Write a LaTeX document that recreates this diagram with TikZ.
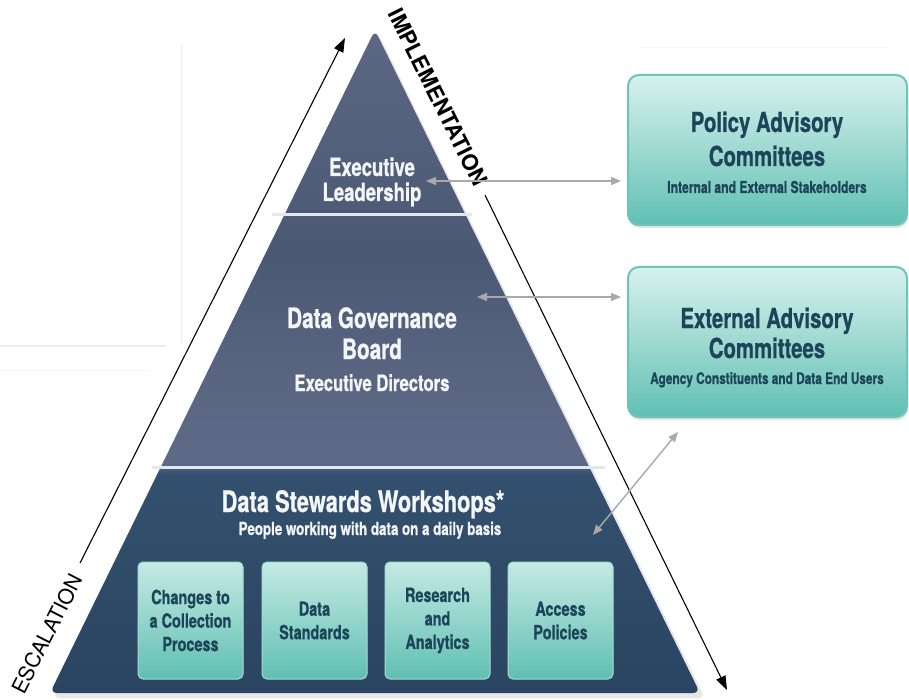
\documentclass[tikz,border=0pt]{standalone}
\usepackage{fontspec}
\setmainfont{TeX Gyre Heros}[FakeStretch=0.74, BoldFeatures={FakeBold=0.8}]
\newfontfamily\widefont{TeX Gyre Heros}
\usetikzlibrary{arrows.meta,shadows}
\definecolor{pyrA}{HTML}{2A4561}
\definecolor{pyrB}{HTML}{33506E}
\definecolor{pyrC}{HTML}{5E6A87}
\definecolor{pyrD}{HTML}{58647F}
\definecolor{pyrE}{HTML}{4A5874}
\definecolor{pyrF}{HTML}{4E5B77}
\definecolor{pyrG}{HTML}{5B6783}
\definecolor{pyrwhite}{HTML}{F3F5F7}
\definecolor{boxtext}{HTML}{1D4559}
\definecolor{arrowgray}{HTML}{A9A9A9}
\definecolor{sepline}{HTML}{E2E8EE}
\definecolor{faint}{HTML}{EDEDED}
\definecolor{tealtop}{HTML}{D8F1EE}
\definecolor{tealmid}{HTML}{9ED9D1}
\definecolor{tealbot}{HTML}{5FC0B3}
\definecolor{tealedge}{HTML}{6CC5B9}
\definecolor{stop}{HTML}{C4EAE4}
\definecolor{sbot}{HTML}{60BFB2}
\definecolor{sedge}{HTML}{A8DCD4}
\pgfdeclareverticalshading{pyrshade}{100bp}{color(0bp)=(pyrA); color(25bp)=(pyrA); color(41.5bp)=(pyrB); color(42.3bp)=(pyrC); color(50bp)=(pyrD); color(58bp)=(pyrE); color(61bp)=(pyrF); color(75bp)=(pyrG); color(100bp)=(pyrG)}
\pgfdeclareverticalshading{tealshade}{100bp}{color(0bp)=(tealbot); color(25bp)=(tealbot); color(50bp)=(tealmid); color(75bp)=(tealtop); color(100bp)=(tealtop)}
\newcommand\setfs[2]{\fontsize{#1}{#2}\selectfont\bfseries}
\begin{document}
\begin{tikzpicture}[x=1pt,y=-1pt,
  pyrtxt/.style={text=pyrwhite, inner sep=0pt, anchor=base},
  rtxt/.style={text=boxtext, inner sep=0pt, anchor=base},
  sbox/.style={rounded corners=5pt, draw=sedge, line width=1pt, top color=stop, bottom color=sbot,
    minimum width=105pt, minimum height=117pt, inner sep=0pt, text=boxtext, align=center,
    font=\setfs{19.5}{23.5}},
  rbox/.style={rounded corners=11pt, draw=tealedge, line width=2pt, shading=tealshade,
    minimum width=279pt, inner sep=0pt,
    drop shadow={opacity=0.22, shadow xshift=1pt, shadow yshift=-3pt}},
  garrow/.style={draw=arrowgray, line width=1.4pt,
    {Triangle[length=10pt,width=8pt]}-{Triangle[length=10pt,width=8pt]}},
  barrow/.style={draw=black, line width=1.1pt, -{Triangle[length=14pt,width=10pt]}},
  sep/.style={draw=sepline, line width=3pt}
]
\useasboundingbox (0,0) rectangle (909,700);
\fill[white] (0,0) rectangle (909,700);
% faint background traces
\draw[faint, line width=1pt] (181,45) -- (181,345);
\draw[faint, line width=1.2pt] (0,346) -- (166,346);
\draw[faint!50, line width=1pt] (0,370) -- (150,370);
\draw[faint!35, line width=1pt] (640,48) -- (890,48);

% pyramid
\fill[black!18, opacity=0.5, rounded corners=7pt] (379,35) -- (705,698) -- (53,698) -- cycle;
\shade[shading=pyrshade, rounded corners=7pt] (375,30) -- (700,693) -- (50,693) -- cycle;
\draw[sep] (272,215) -- (472,215);
\draw[sep] (152,467) -- (605,467);

% pyramid text
\node[pyrtxt, font=\setfs{25}{25}] (ex1) at (372,176) {Executive};
\node[pyrtxt, font=\setfs{25}{25}] (ex2) at (372,201) {Leadership};
\node[pyrtxt, font=\setfs{28}{28}] (dg1) at (372,328) {Data Governance};
\node[pyrtxt, font=\setfs{28}{28}] (dg2) at (372,359) {Board};
\node[pyrtxt, font=\setfs{22.5}{22.5}] (dg3) at (372,391) {Executive Directors};
\node[pyrtxt, font=\setfs{29.5}{29.5}] (ds1) at (363,512) {Data Stewards Workshops*};
\node[pyrtxt, font=\setfs{18}{18}] (ds2) at (370,535) {People working with data on a daily basis};

% workshop boxes
\node[sbox] (b1) at (190.5,620.5) {Changes to\\a Collection\\Process};
\node[sbox] (b2) at (314.5,620.5) {Data\\Standards};
\node[sbox] (b3) at (437.5,620.5) {Research\\and\\Analytics};
\node[sbox] (b4) at (560.5,620.5) {Access\\Policies};

% right boxes
\node[rbox, minimum height=150pt] (pac) at (767.5,150) {};
\node[rbox, minimum height=150pt] (eac) at (767.5,342) {};
\node[rtxt, font=\setfs{27.5}{27.5}] (pa1) at (767,132) {Policy Advisory};
\node[rtxt, font=\setfs{27.5}{27.5}] (pa2) at (767,166) {Committees};
\node[rtxt, font=\setfs{16.4}{16.4}] (pa3) at (767,193) {Internal and External Stakeholders};
\node[rtxt, font=\setfs{27.5}{27.5}] (ea1) at (767,328) {External Advisory};
\node[rtxt, font=\setfs{27.5}{27.5}] (ea2) at (767,358) {Committees};
\node[rtxt, font=\setfs{16}{16}] (ea3) at (767,384) {Agency Constituents and Data End Users};

% escalation / implementation
\coordinate (escS) at (80,563);
\coordinate (escE) at (345,38);
\coordinate (impS) at (485,195);
\coordinate (impE) at (727,690);
\draw[barrow] (escS) -- (escE);
\draw[barrow] (impS) -- (impE);
\node[inner sep=0pt, rotate=63, font=\widefont\fontsize{21}{21}\selectfont] (esc) at (47,634) {ESCALATION};
\node[inner sep=0pt, rotate=-63.5, font=\widefont\fontsize{22}{22}\selectfont\bfseries] (imp) at (438,97) {IMPLEMENTATION};

% gray connectors
\coordinate (a1L) at (426,181);
\coordinate (a1R) at (621,181);
\coordinate (a2L) at (477,297);
\coordinate (a2R) at (621,297);
\coordinate (a3L) at (593,535);
\coordinate (a3R) at (678,432);
\draw[garrow] (a1L) -- (a1R);
\draw[garrow] (a2L) -- (a2R);
\draw[garrow] (a3L) -- (a3R);
\end{tikzpicture}
\end{document}
